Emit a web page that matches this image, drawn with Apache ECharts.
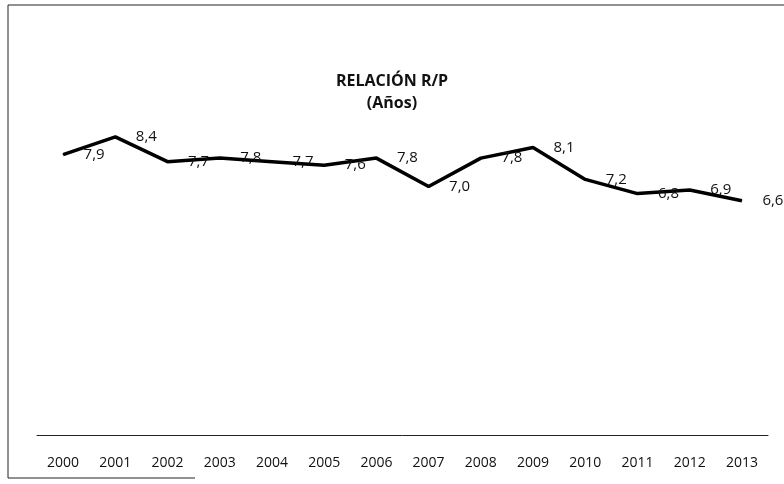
<!DOCTYPE html>
<html>
<head>
<meta charset="utf-8">
<script src="https://cdn.jsdelivr.net/npm/echarts@6/dist/echarts.min.js"></script>
<style>
  html, body { margin: 0; padding: 0; background: #fff; }
  #chart { width: 784px; height: 484px; }
</style>
</head>
<body>
<div id="chart"></div>
<script>
// Reserves-to-production ratio, in years
const years = ['2000', '2001', '2002', '2003', '2004', '2005', '2006',
               '2007', '2008', '2009', '2010', '2011', '2012', '2013'];
const ratio = [7.9, 8.4, 7.7, 7.8, 7.7, 7.6, 7.8, 7.0, 7.8, 8.1, 7.2, 6.8, 6.9, 6.6];

const font = '"Open Sans", "Liberation Sans", sans-serif';
const chart = echarts.init(document.getElementById('chart'));

chart.setOption({
  backgroundColor: '#fff',
  animation: false,
  title: {
    text: 'RELACIÓN R/P',
    subtext: '(Años)',
    left: 'center',
    top: 68,
    itemGap: 6,
    textStyle: { fontFamily: font, fontSize: 16, fontWeight: 'bold', color: '#111' },
    subtextStyle: { fontFamily: font, fontSize: 16, fontWeight: 'bold', color: '#111' }
  },
  grid: { left: 37, right: 16, top: 80, bottom: 49 },
  xAxis: {
    type: 'category',
    data: years,
    boundaryGap: true,
    axisLine: { lineStyle: { color: '#222', width: 1 } },
    axisTick: { show: false },
    axisLabel: { fontFamily: font, fontSize: 14, color: '#111', margin: 21 }
  },
  yAxis: {
    type: 'value',
    min: 0,
    max: 10,
    show: false,
    splitLine: { show: false }
  },
  series: [{
    type: 'line',
    data: ratio,
    showSymbol: true,
    symbol: 'circle',
    symbolSize: 1,
    itemStyle: { color: '#000' },
    lineStyle: { color: '#000', width: 3.5 },
    label: {
      show: true,
      position: 'right',
      distance: 20,
      fontFamily: font,
      fontSize: 15,
      color: '#111',
      formatter: p => p.value.toFixed(1).replace('.', ',')
    },
    labelLayout: { hideOverlap: false }
  }],
  graphic: [{
    type: 'polyline',
    silent: true,
    shape: { points: [[784, 5], [8, 5], [8, 478], [195, 478]] },
    style: { stroke: '#222', lineWidth: 1, fill: null }
  }]
});
</script>
</body>
</html>
